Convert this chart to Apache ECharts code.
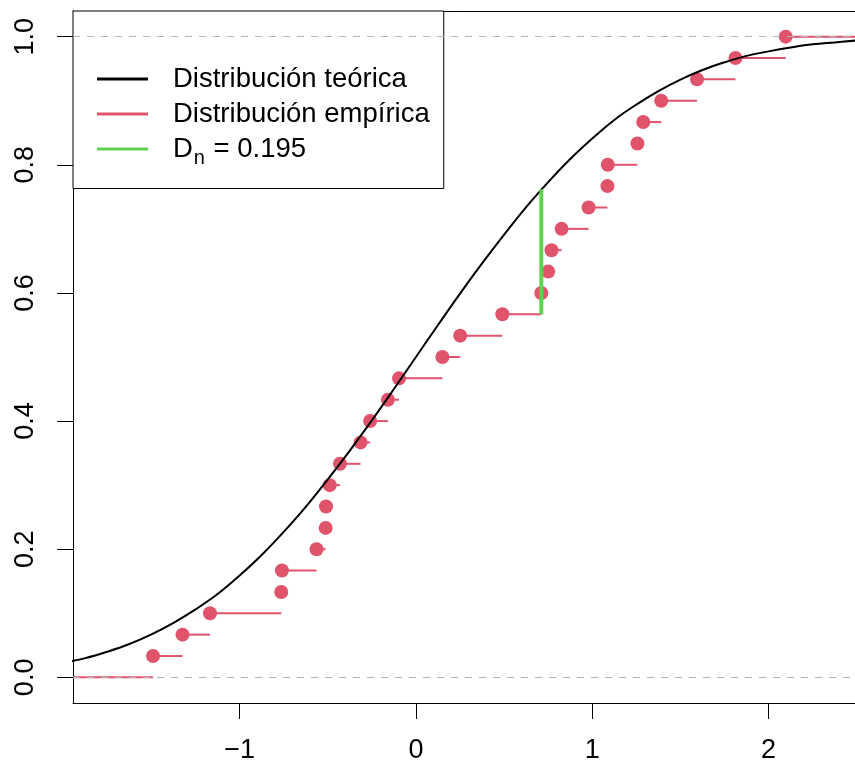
<!DOCTYPE html>
<html>
<head>
<meta charset="utf-8">
<script src="https://cdn.jsdelivr.net/npm/echarts@6/dist/echarts.min.js"></script>
<style>
html,body{margin:0;padding:0;background:#fff;}
#chart{width:855px;height:766px;}
</style>
</head>
<body>
<div id="chart"></div>
<script>
// ---- data ----
const ecdfX = [-1.491, -1.324, -1.168, -0.764, -0.760, -0.564, -0.512, -0.510, -0.489, -0.431,
               -0.314, -0.260, -0.159, -0.096, 0.150, 0.251, 0.490, 0.711, 0.750, 0.769,
               0.826, 0.979, 1.086, 1.088, 1.256, 1.289, 1.391, 1.594, 1.812, 2.097];
const ecdfY = [0.0333, 0.0667, 0.1000, 0.1333, 0.1667, 0.2000, 0.2333, 0.2667, 0.3000, 0.3333,
               0.3667, 0.4000, 0.4333, 0.4667, 0.5000, 0.5333, 0.5667, 0.6000, 0.6333, 0.6667,
               0.7000, 0.7333, 0.7667, 0.8000, 0.8333, 0.8667, 0.9000, 0.9333, 0.9667, 1.0000];
const curveX = [-2.0, -1.875, -1.75, -1.625, -1.5, -1.375, -1.25, -1.125, -1.0, -0.875, -0.75, -0.625,
                -0.5, -0.375, -0.25, -0.125, 0, 0.125, 0.25, 0.375, 0.5, 0.625, 0.75, 0.875,
                1.0, 1.125, 1.25, 1.375, 1.5, 1.625, 1.75, 1.875, 2.0, 2.125, 2.25, 2.375, 2.5];
const curveY = [0.023, 0.030, 0.040, 0.052, 0.067, 0.085, 0.106, 0.130, 0.159, 0.191, 0.227, 0.266,
                0.309, 0.354, 0.401, 0.450, 0.500, 0.550, 0.599, 0.646, 0.691, 0.734, 0.773, 0.809,
                0.841, 0.870, 0.894, 0.915, 0.933, 0.948, 0.960, 0.970, 0.977, 0.983, 0.988, 0.991, 0.994];
const dnX = [0.711, 0.711];
const dnY = [0.5667, 0.7617];
const refLevels = [0, 1];
const xTicks = [-1, 0, 1, 2];
const yTicks = [0, 0.2, 0.4, 0.6, 0.8, 1.0];
const xRange = [-1.945, 2.49];
const yRange = [-0.04, 1.04];
const legendNames = ['Distribución teórica', 'Distribución empírica', 'Dn'];
const dnLabel = '0.195';

// ---- build ----
const FONT = '"Liberation Sans", Arial, Helvetica, sans-serif';
const RED = '#DF536B', GREEN = '#61D04F', GRAY = '#B3B3B3';

const segs = [[xRange[0], ecdfX[0], 0]];
for (let i = 0; i < ecdfX.length; i++) {
  const x2 = i + 1 < ecdfX.length ? ecdfX[i + 1] : xRange[1];
  segs.push([ecdfX[i], x2, ecdfY[i]]);
}
const points = ecdfX.map((x, i) => [x, ecdfY[i]]);
const curve = curveX.map((x, i) => [x, curveY[i]]);
const dn = dnX.map((x, i) => [x, dnY[i]]);

const fmtX = v => (v < 0 ? '\u2212' + Math.abs(v) : String(v));

const chart = echarts.init(document.getElementById('chart'), null, {renderer: 'canvas'});
chart.setOption({
  animation: false,
  backgroundColor: '#fff',
  textStyle: {fontFamily: FONT},
  grid: {left: 73, top: 11, right: 0, bottom: 63, containLabel: false},
  xAxis: [{
    type: 'value', min: xRange[0], max: xRange[1], position: 'bottom',
    axisLine: {show: true, onZero: false, lineStyle: {color: '#000', width: 1}},
    axisTick: {show: true, length: 16, customValues: xTicks, lineStyle: {color: '#000', width: 1}},
    axisLabel: {show: true, customValues: xTicks, formatter: fmtX, fontSize: 27, color: '#000', margin: 34, fontFamily: FONT},
    splitLine: {show: false}
  }, {
    type: 'value', min: xRange[0], max: xRange[1], position: 'top',
    axisLine: {show: true, onZero: false, lineStyle: {color: '#000', width: 1}},
    axisTick: {show: false}, axisLabel: {show: false}, splitLine: {show: false}
  }],
  yAxis: {
    type: 'value', min: yRange[0], max: yRange[1],
    axisLine: {show: true, onZero: false, lineStyle: {color: '#000', width: 1}},
    axisTick: {show: true, length: 16, customValues: yTicks, lineStyle: {color: '#000', width: 1}},
    axisLabel: {show: true, customValues: yTicks, formatter: v => v.toFixed(1), rotate: 90, fontSize: 27, color: '#000', margin: 34, fontFamily: FONT},
    splitLine: {show: false}
  },
  legend: {
    left: 73, top: 11, orient: 'vertical', align: 'left',
    itemWidth: 51, itemHeight: 3, itemGap: 7,
    padding: [54, 14, 20, 24],
    borderColor: '#000', borderWidth: 1, borderRadius: 0, backgroundColor: '#fff',
    selectedMode: false,
    data: [
      {name: legendNames[0], icon: 'rect', itemStyle: {color: '#000'}},
      {name: legendNames[1], icon: 'rect', itemStyle: {color: RED}},
      {name: legendNames[2], icon: 'rect', itemStyle: {color: GREEN}}
    ],
    formatter: name => name === 'Dn' ? '{a|D}{s|n}{a| = ' + dnLabel + '}' : name,
    textStyle: {
      fontSize: 27.5, color: '#000', fontFamily: FONT, padding: [0, 0, 0, 20], lineHeight: 27,
      rich: {
        a: {fontSize: 27.5, fontFamily: FONT, color: '#000', lineHeight: 27},
        s: {fontSize: 20, fontFamily: FONT, color: '#000', verticalAlign: 'bottom', lineHeight: 27, padding: [0, 1, -6, 1]}
      }
    }
  },
  series: [
    {
      name: legendNames[1], type: 'custom', z: 2, silent: true,
      data: segs,
      encode: {x: [0, 1], y: 2},
      renderItem: (params, api) => {
        const p1 = api.coord([api.value(0), api.value(2)]);
        const p2 = api.coord([api.value(1), api.value(2)]);
        return {type: 'line', shape: {x1: p1[0], y1: p1[1], x2: p2[0], y2: p2[1]},
                style: {stroke: RED, lineWidth: 2}};
      },
      itemStyle: {color: RED}
    },
    {
      name: legendNames[1], type: 'scatter', z: 3, silent: true,
      data: points, symbol: 'circle', symbolSize: 14,
      itemStyle: {color: RED, opacity: 1},
      markLine: {
        silent: true, symbol: ['none', 'none'], label: {show: false},
        lineStyle: {color: GRAY, type: [7, 7], width: 1.2},
        emphasis: {disabled: true},
        data: refLevels.map(v => ({yAxis: v}))
      }
    },
    {
      name: legendNames[0], type: 'line', z: 6, silent: true,
      data: curve, smooth: 0.4, showSymbol: false, symbol: 'none',
      lineStyle: {color: '#000', width: 2}, itemStyle: {color: '#000'}, clip: true
    },
    {
      name: legendNames[2], type: 'line', z: 7, silent: true,
      data: dn, showSymbol: false, symbol: 'none',
      lineStyle: {color: GREEN, width: 4, cap: 'butt'}, itemStyle: {color: GREEN}
    }
  ]
});
</script>
</body>
</html>
